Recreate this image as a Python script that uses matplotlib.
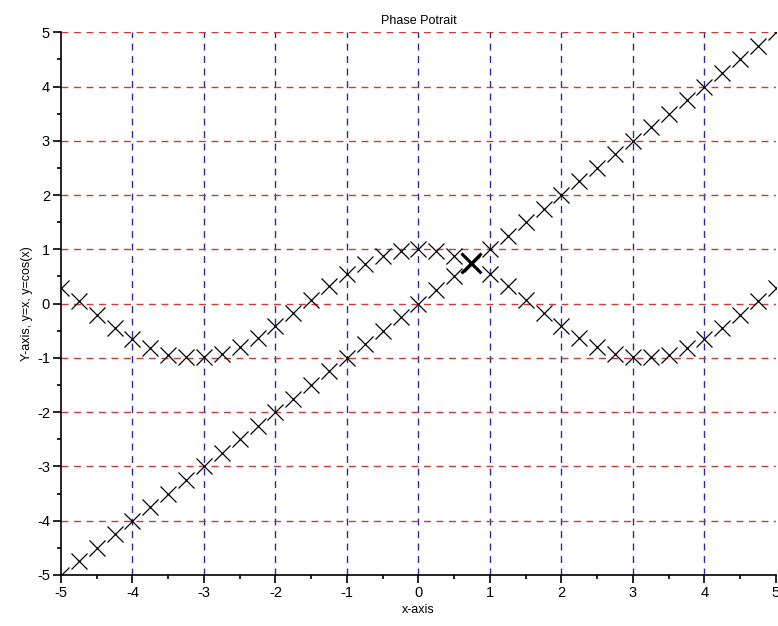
"""
    Phase portrait: y = x and y = cos(x)
"""

import matplotlib
matplotlib.use('Agg')
import matplotlib.pyplot as plt

plt.rcParams['font.family'] = ['Liberation Sans', 'DejaVu Sans']
plt.rcParams['axes.unicode_minus'] = False

x_nodes = [-5.0, -4.75, -4.5, -4.25, -4.0, -3.75, -3.5, -3.25, -3.0, -2.75,
           -2.5, -2.25, -2.0, -1.75, -1.5, -1.25, -1.0, -0.75, -0.5, -0.25,
           0.0, 0.25, 0.5, 0.75, 1.0, 1.25, 1.5, 1.75, 2.0, 2.25,
           2.5, 2.75, 3.0, 3.25, 3.5, 3.75, 4.0, 4.25, 4.5, 4.75, 5.0]
y_line = list(x_nodes)
y_cos = [0.28, 0.04, -0.21, -0.45, -0.65, -0.82, -0.94, -0.99, -0.99, -0.92,
         -0.80, -0.63, -0.42, -0.18, 0.07, 0.32, 0.54, 0.73, 0.88, 0.97,
         1.0, 0.97, 0.88, 0.73, 0.54, 0.32, 0.07, -0.18, -0.42, -0.63,
         -0.80, -0.92, -0.99, -0.99, -0.94, -0.82, -0.65, -0.45, -0.21, 0.04, 0.28]
cross_x = [0.74]
cross_y = [0.74]
ticks = [-5, -4, -3, -2, -1, 0, 1, 2, 3, 4, 5]

fig = plt.figure(figsize=(7.78, 6.26), dpi=100)
ax = fig.add_axes([0.0784, 0.0815, 0.919, 0.867])

# grid first so the markers sit on top (skip lines hidden under the spines)
for t in ticks[1:-1]:
    ax.axvline(t, color='#2b2ba0', lw=1.0, ls=(0, (5, 4)), zorder=1)
for t in ticks[1:]:
    ax.axhline(t, color='#c83c3c', lw=1.0, ls=(0, (5, 4)), zorder=1)

ax.plot(x_nodes, y_line, 'kx', ms=11, mew=0.9, zorder=3)
ax.plot(x_nodes, y_cos, 'kx', ms=11, mew=0.9, zorder=3)
ax.plot(cross_x, cross_y, 'kx', ms=14, mew=2.2, zorder=4)

ax.set_xlim(-5, 5)
ax.set_ylim(-5, 5)
ax.set_xticks(ticks)
ax.set_yticks(ticks)
ax.set_xticks([t + 0.5 for t in ticks[:-1]], minor=True)
ax.set_yticks([t + 0.5 for t in ticks[:-1]], minor=True)
ax.tick_params(which='major', direction='out', length=6, width=1.2,
               labelsize=10.5, pad=2)
ax.tick_params(which='minor', direction='out', length=3, width=1.2)

ax.spines['top'].set_visible(False)
ax.spines['right'].set_visible(False)
ax.spines['left'].set_linewidth(1.2)
ax.spines['bottom'].set_linewidth(1.2)

ax.set_title('Phase Potrait', fontsize=9, pad=6)
ax.set_xlabel('x-axis', fontsize=9, labelpad=3)
ax.set_ylabel('Y-axis, y=x, y=cos(x)', fontsize=9, labelpad=3)

fig.savefig('out.png', dpi=100)
